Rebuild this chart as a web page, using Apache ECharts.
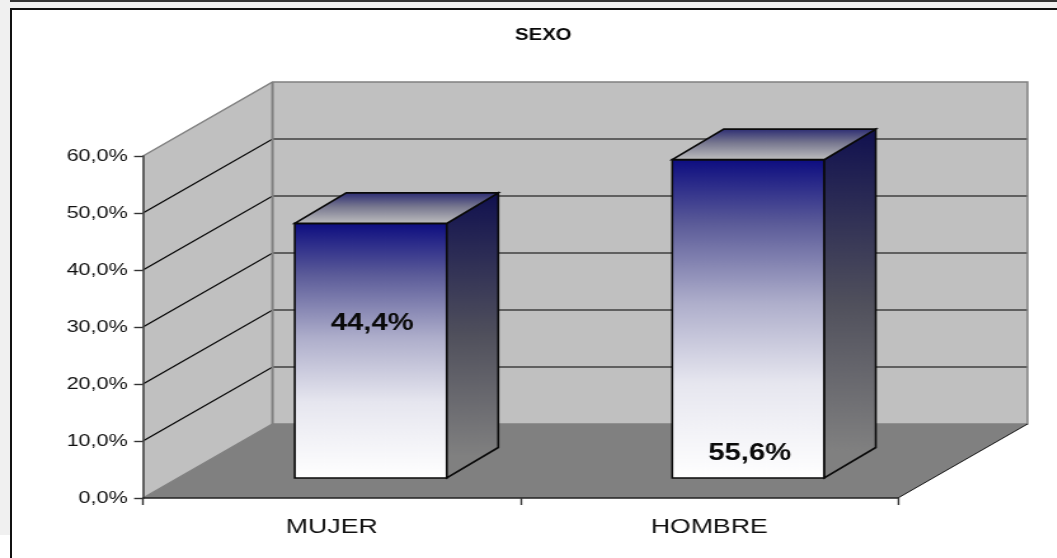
<!DOCTYPE html>
<html>
<head>
<meta charset="utf-8">
<script src="https://cdn.jsdelivr.net/npm/echarts@6/dist/echarts.min.js"></script>
<style>
  html, body { margin: 0; padding: 0; background: #ffffff; overflow: hidden; width: 1057px; height: 558px; }
  .strip { position: absolute; background: #f0f0f0; }
  .rule { position: absolute; background: #111111; }
  #chart { position: absolute; left: 0; top: 0; height: 558px; transform-origin: 0 0; }
</style>
</head>
<body>
<div class="strip" style="left:0;top:0;width:1057px;height:9px"></div>
<div class="strip" style="left:0;top:0;width:11px;height:535px"></div>
<div class="rule" style="left:10px;top:0;width:1047px;height:2px;background:#333"></div>
<div class="rule" style="left:10px;top:8px;width:1047px;height:2px"></div>
<div class="rule" style="left:10px;top:8px;width:2px;height:550px"></div>
<div id="chart"></div>
<script>
// ---- data ----
const titleText = 'SEXO';
const categories = ['MUJER', 'HOMBRE'];
const percentValues = [44.4, 55.6];
const yTickValues = [10, 20, 30, 40, 50];

// ---- look ----
const SX = 1.27;                 // reference is horizontally stretched
const px = v => v / SX;
const DEPTH_X = px(129.5), DEPTH_Y = 74;
const BAR_SHIFT_X = px(39), BAR_SHIFT_Y = 20, TOP_LIFT = 1.5;
const BAR_W = px(152), BAR_DX = px(51.5), BAR_DY = 30.5;
const LABEL_AT = [27.0, 4.2];    // height on the bar where each label sits, in axis units
const fmt = v => v.toFixed(1).replace('.', ',') + '%';
const vGrad = (stops) => ({ type: 'linear', x: 0, y: 0, x2: 0, y2: 1,
  colorStops: stops.map(s => ({ offset: s[0], color: s[1] })) });
const FRONT = vGrad([[0, '#0c0c80'], [0.2, '#5a5a98'], [0.45, '#aeaecb'], [0.7, '#e6e6ef'], [1, '#ffffff']]);
const SIDE = vGrad([[0, '#10104f'], [0.5, '#50505c'], [0.92, '#808080'], [1, '#808080']]);
const TOP = vGrad([[0, '#2a2a72'], [0.45, '#77778f'], [1, '#c0c0c0']]);

const chartDom = document.getElementById('chart');
chartDom.style.width = px(1057) + 'px';
chartDom.style.transform = 'scaleX(' + SX + ')';
const chart = echarts.init(chartDom);

function poly(points, fill, stroke, lw) {
  return { type: 'polygon', shape: { points }, style: { fill, stroke: stroke || 'none', lineWidth: lw || 0 } };
}
function line(points, stroke, lw) {
  return { type: 'polyline', shape: { points }, style: { fill: 'none', stroke, lineWidth: lw } };
}

function renderWalls(params, api) {
  const g = params.coordSys;
  const l = g.x, r = g.x + g.width, t = g.y, b = g.y + g.height;
  const dx = DEPTH_X, dy = DEPTH_Y;
  const kids = [
    poly([[l, b], [l + dx, b - dy], [l + dx, t - dy], [l, t]], '#c0c0c0'),
    poly([[l + dx, b - dy], [r + dx, b - dy], [r + dx, t - dy], [l + dx, t - dy]], '#c0c0c0'),
    poly([[l, b], [l + dx, b - dy], [r + dx, b - dy], [r, b]], '#808080')
  ];
  yTickValues.forEach(v => {
    const y = api.coord([0, v])[1];
    kids.push(line([[l, y], [l + dx, y - dy], [r + dx, y - dy]], '#000000', 1.1));
  });
  kids.push(line([[l, t], [l + dx, t - dy], [r + dx, t - dy], [r + dx, b - dy], [l + dx, b - dy], [l, b]], '#808080', 1.5));
  kids.push(line([[l + dx, t - dy], [l + dx, b - dy]], '#808080', 2));
  kids.push(line([[r, b], [r + dx, b - dy]], '#111111', 1));
  return { type: 'group', children: kids };
}

function renderBar(params, api) {
  const i = api.value(0);
  const v = api.value(1);
  const cx = api.coord([i, 0])[0] + BAR_SHIFT_X;
  const y0 = api.coord([i, 0])[1] - BAR_SHIFT_Y;
  const y1 = api.coord([i, v])[1] - BAR_SHIFT_Y - TOP_LIFT;
  const a = cx - BAR_W / 2, c = cx + BAR_W / 2;
  const edge = '#0a0a0a';
  const labelY = api.coord([i, LABEL_AT[params.dataIndex]])[1] - BAR_SHIFT_Y;
  return { type: 'group', children: [
    poly([[a, y1], [c, y1], [c, y0], [a, y0]], FRONT, edge, 1.6),
    poly([[c, y1], [c + BAR_DX, y1 - BAR_DY], [c + BAR_DX, y0 - BAR_DY], [c, y0]], SIDE, edge, 1.6),
    poly([[a, y1], [a + BAR_DX, y1 - BAR_DY], [c + BAR_DX, y1 - BAR_DY], [c, y1]], TOP, edge, 1.6),
    { type: 'text', x: cx + px(1.5), y: labelY, z2: 10,
      style: { text: fmt(v), fill: '#0a0a0a', font: 'bold 23px "Liberation Sans", Arial, sans-serif',
        align: 'center', verticalAlign: 'middle' } }
  ] };
}

chart.setOption({
  animation: false,
  backgroundColor: 'transparent',
  title: {
    text: titleText, left: px(537), top: 23, textAlign: 'center',
    textStyle: { fontFamily: '"Liberation Sans", Arial, sans-serif', fontSize: 16, fontWeight: 'bold', color: '#0a0a0a' }
  },
  grid: { left: px(143), width: px(755), top: 156, height: 342 },
  xAxis: {
    type: 'category', data: categories, z: 5,
    axisLine: { show: true, lineStyle: { color: '#222222', width: 1.6 } },
    axisTick: { show: true, alignWithLabel: false, length: 7, lineStyle: { color: '#333333', width: 1.4 } },
    axisLabel: { fontFamily: '"Liberation Sans", Arial, sans-serif', fontSize: 21, color: '#111111', margin: 19 },
    splitLine: { show: false }
  },
  yAxis: {
    type: 'value', min: 0, max: 60, interval: 10, z: 5,
    axisLine: { show: true, lineStyle: { color: '#444444', width: 1.6 } },
    axisTick: { show: true, length: 7, lineStyle: { color: '#333333', width: 1.4 } },
    axisLabel: { fontFamily: '"Liberation Sans", Arial, sans-serif', fontSize: 17, color: '#111111', margin: 12,
      padding: [6, 0, 0, 0], formatter: v => fmt(v) },
    splitLine: { show: false }
  },
  series: [
    { type: 'custom', z: 1, silent: true, renderItem: renderWalls, data: [[0, 0]], clip: false, encode: { x: 0, y: 1 } },
    { type: 'custom', z: 3, renderItem: renderBar, clip: false, encode: { x: 0, y: 1 },
      data: percentValues.map((v, i) => [i, v]) }
  ]
});
</script>
</body>
</html>
